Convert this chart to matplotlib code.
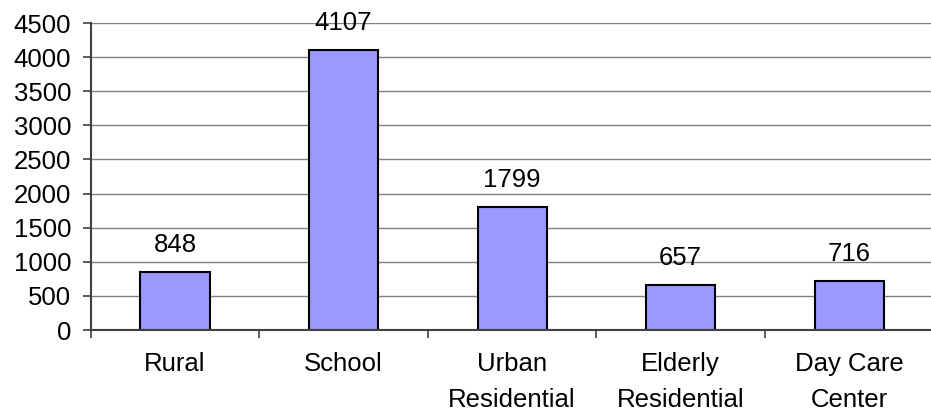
import matplotlib
matplotlib.use("Agg")
import matplotlib.pyplot as plt
import numpy as np

categories = ["Rural", "School", "Urban\nResidential", "Elderly\nResidential", "Day Care\nCenter"]
counts = [848, 4107, 1799, 657, 716]
yticks = list(range(0, 4501, 500))

plt.rcParams['font.family'] = ['Liberation Sans', 'DejaVu Sans']
fs = 18.5

fig = plt.figure(figsize=(9.31, 4.19), dpi=100, facecolor='white')
ax = fig.add_axes([0.0975, 0.2124, 0.905, 0.7327])

x = np.arange(len(categories))
ax.bar(x, counts, width=0.41, color='#9999ff', edgecolor='black', linewidth=1.5, zorder=3)

for xi, v in zip(x, counts):
    ax.annotate(str(v), (xi, v), xytext=(0, 11), textcoords='offset points',
                ha='center', va='bottom', fontsize=fs)

ax.set_xlim(-0.5, len(categories) - 0.5)
ax.set_ylim(0, 4500)
ax.set_yticks(yticks)
ax.yaxis.grid(True, color='#808080', linewidth=1, zorder=0)
ax.tick_params(axis='y', labelsize=fs, length=6, width=1.2, pad=8, color='#404040')

# ticks at category boundaries, labels at centres
ax.set_xticks(np.arange(len(categories) + 1) - 0.5)
ax.set_xticklabels([])
ax.set_xticks(x, minor=True)
ax.set_xticklabels(categories, minor=True, va='top', linespacing=1.6)
ax.tick_params(axis='x', which='major', length=6, width=1.2, color='#404040')
ax.tick_params(axis='x', which='minor', length=0, labelsize=fs, pad=16)

for s in ['top', 'right']:
    ax.spines[s].set_visible(False)
for s in ['left', 'bottom']:
    ax.spines[s].set_color('#404040')
    ax.spines[s].set_linewidth(1.5)
    ax.spines[s].set_zorder(4)

fig.savefig('out.png', dpi=100)
